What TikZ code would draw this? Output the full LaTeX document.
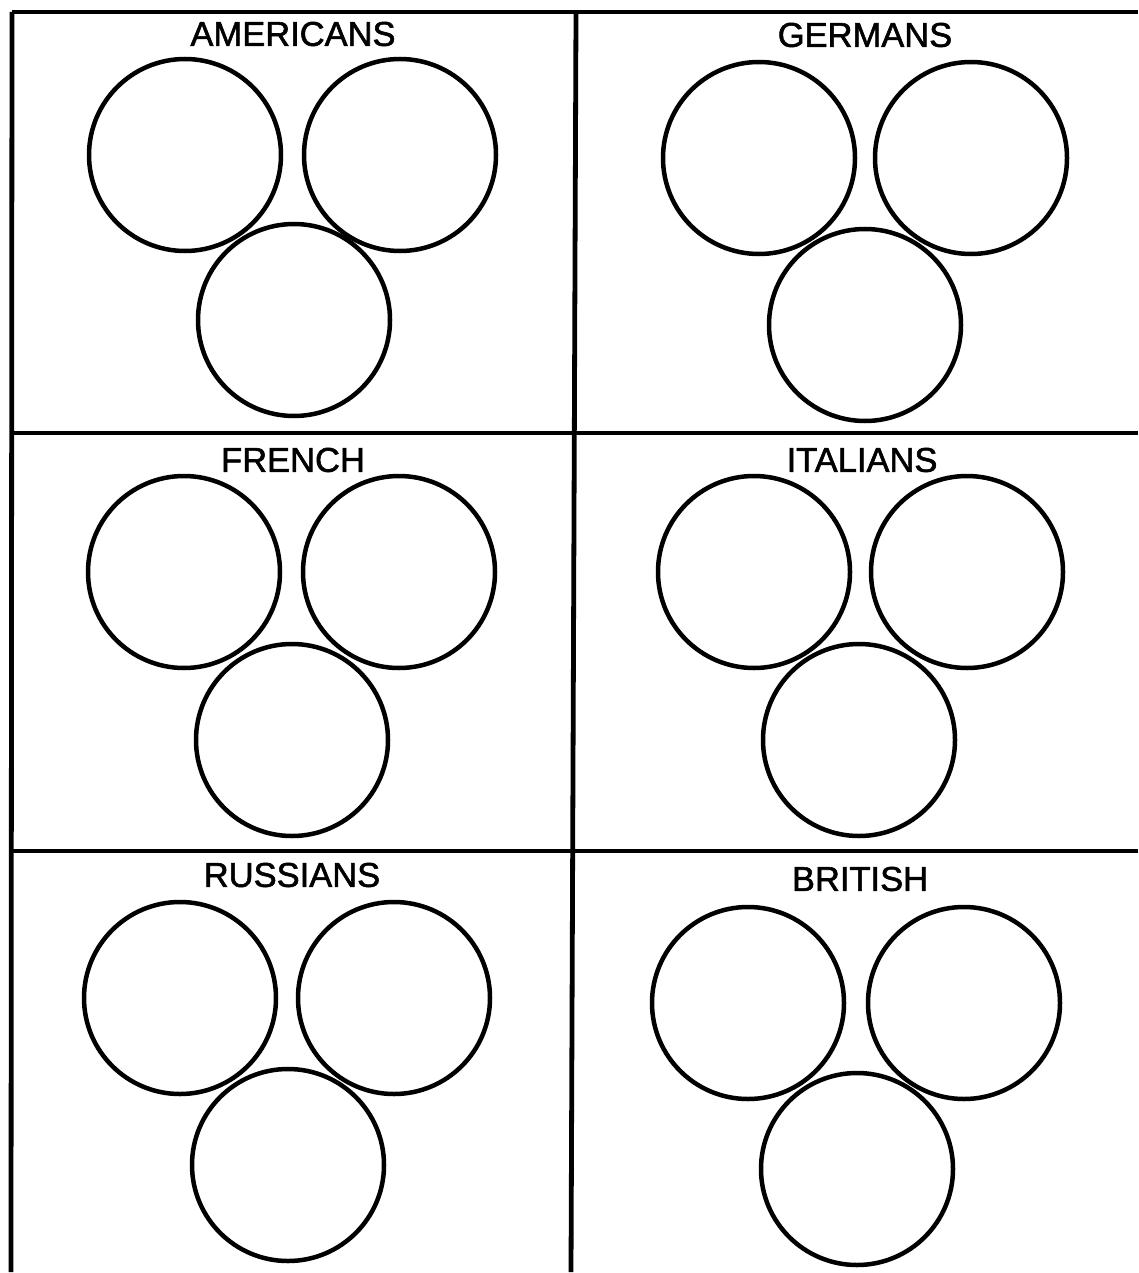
\documentclass[tikz,border=0pt]{standalone}
\usepackage{fontspec}
\setmainfont{Liberation Sans}
\newfontfamily\labelfont[FakeBold=1.6]{Liberation Sans}
\begin{document}
\begin{tikzpicture}[x=1pt,y=-1pt,
  grid/.style={line width=4.8pt},
  ring/.style={circle,draw,line width=4.5pt,minimum size=192pt,inner sep=0pt},
  title/.style={inner sep=0pt,font=\labelfont\fontsize{34.5}{40}\selectfont}]
\useasboundingbox (0,0) rectangle (1138,1273);
% grid
\coordinate (tl) at (12,12);
\coordinate (tr) at (1138,12);
\coordinate (bl) at (11,1272);
\coordinate (mt) at (576,12);
\coordinate (mb) at (571,1272);
\coordinate (h1l) at (12,433);
\coordinate (h1r) at (1138,433);
\coordinate (h2l) at (11,851);
\coordinate (h2r) at (1138,851);
\draw[grid] (tl) -- (tr);
\draw[grid] (tl) -- (bl);
\draw[grid] (mt) -- (mb);
\draw[grid] (h1l) -- (h1r);
\draw[grid] (h2l) -- (h2r);
% AMERICANS
\node[title] (tam) at (293,34) {AMERICANS};
\node[ring] (am1) at (185,155) {};
\node[ring] (am2) at (400,155) {};
\node[ring] (am3) at (294,320) {};
% GERMANS
\node[title] (tge) at (865,35) {GERMANS};
\node[ring] (ge1) at (759,158) {};
\node[ring] (ge2) at (971,158) {};
\node[ring] (ge3) at (865,325) {};
% FRENCH
\node[title] (tfr) at (293,460) {FRENCH};
\node[ring] (fr1) at (184,572) {};
\node[ring] (fr2) at (399,572) {};
\node[ring] (fr3) at (292,740) {};
% ITALIANS
\node[title] (tit) at (862,460) {ITALIANS};
\node[ring] (it1) at (754,572) {};
\node[ring] (it2) at (967,572) {};
\node[ring] (it3) at (859,740) {};
% RUSSIANS
\node[title] (tru) at (292,875) {RUSSIANS};
\node[ring] (ru1) at (180,998) {};
\node[ring] (ru2) at (394,998) {};
\node[ring] (ru3) at (288,1165) {};
% BRITISH
\node[title] (tbr) at (860,879) {BRITISH};
\node[ring] (br1) at (748,1003) {};
\node[ring] (br2) at (964,1003) {};
\node[ring] (br3) at (857,1169) {};
\end{tikzpicture}
\end{document}
